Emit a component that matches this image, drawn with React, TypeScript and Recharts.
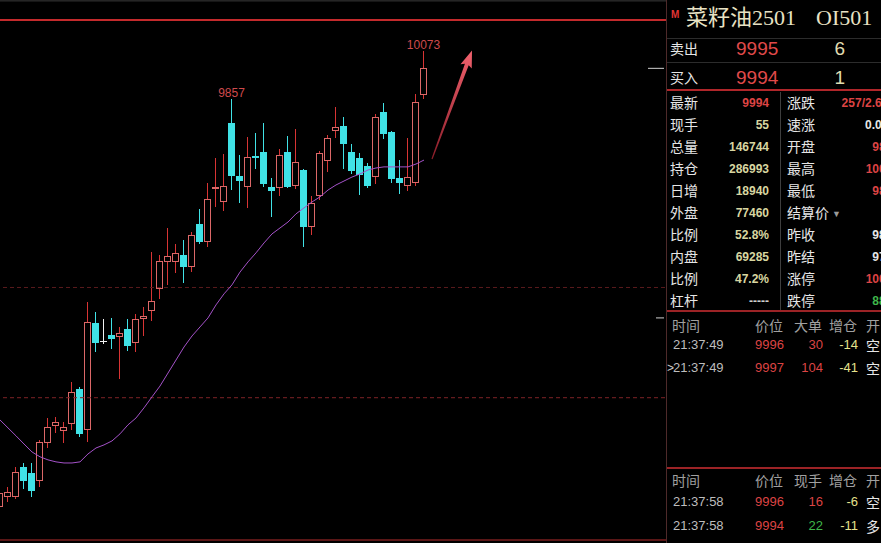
import React from 'react';
import { ComposedChart, Bar, Line, XAxis, YAxis, ReferenceLine } from 'recharts';

// OHLC of each bar, oldest first
const opens = [8005, 8050, 8050, 8186, 8159, 8123, 8295, 8372, 8349, 8381, 8540, 8354, 8839, 8758, 8785, 8776, 8812, 8748, 8857, 8894, 8993, 9116, 9116, 9148, 9093, 9288, 9207, 9447, 9388, 9746, 9506, 9456, 9597, 9615, 9456, 9451, 9615, 9460, 9533, 9275, 9415, 9574, 9710, 9733, 9615, 9587, 9551, 9501, 9796, 9705, 9497, 9460, 9474, 9873];
const closes = [8068, 8073, 8164, 8123, 8077, 8300, 8368, 8390, 8368, 8526, 8336, 8844, 8748, 8758, 8767, 8794, 8735, 8857, 8871, 8939, 9120, 9143, 9157, 9093, 9238, 9207, 9401, 9456, 9460, 9506, 9483, 9592, 9587, 9470, 9438, 9601, 9456, 9569, 9275, 9383, 9610, 9678, 9728, 9651, 9529, 9510, 9460, 9773, 9696, 9492, 9474, 9501, 9841, 9994];
const highs = [8082, 8095, 8186, 8204, 8204, 8309, 8408, 8413, 8390, 8572, 8549, 8934, 8889, 8857, 8862, 8821, 8857, 8880, 8912, 9161, 9148, 9270, 9197, 9216, 9252, 9356, 9474, 9587, 9606, 9857, 9601, 9683, 9701, 9746, 9497, 9628, 9687, 9719, 9538, 9415, 9619, 9692, 9819, 9773, 9651, 9610, 9565, 9787, 9837, 9710, 9578, 9678, 9878, 10073];
const lows = [7914, 8027, 8040, 8086, 8050, 8095, 8272, 8340, 8295, 8354, 8322, 8300, 8708, 8744, 8721, 8585, 8712, 8708, 8780, 8848, 8948, 9011, 9066, 9021, 9071, 9197, 9184, 9365, 9347, 9442, 9383, 9361, 9538, 9456, 9320, 9415, 9451, 9447, 9184, 9238, 9397, 9524, 9678, 9538, 9515, 9420, 9451, 9470, 9674, 9474, 9424, 9438, 9460, 9855];
// moving average line
const ma = [8399, 8363, 8327, 8290, 8254, 8232, 8218, 8209, 8204, 8204, 8209, 8245, 8272, 8286, 8304, 8336, 8377, 8408, 8454, 8504, 8553, 8612, 8671, 8730, 8780, 8821, 8862, 8921, 8971, 9012, 9070, 9116, 9157, 9202, 9243, 9270, 9297, 9334, 9361, 9388, 9411, 9442, 9465, 9483, 9501, 9515, 9533, 9542, 9547, 9547, 9547, 9547, 9560, 9578];

// bars whose high is printed above the wick
const labeledHighs = [29, 53];
const totalSlots = 84;
const priceDomain = [7841, 10304];
const limitLine = 10213;
const gridPrices = [9000, 8500];
const lastPrice = 9994;
const markPrice = 8862;
const bottomEdge = 7855;
const trendArrow = [{ x: 54, y: 9583 }, { x: 59, y: 10075 }];

// quote panel
const titleName = '菜籽油2501';
const titleCode = 'OI501';
const bookLabels = ['卖出', '买入'];
const bookPrices = ['9995', '9994'];
const bookVols = ['6', '1'];
const statLabelsL = ['最新', '现手', '总量', '持仓', '日增', '外盘', '比例', '内盘', '比例', '杠杆'];
const statValuesL = ['9994', '55', '146744', '286993', '18940', '77460', '52.8%', '69285', '47.2%', '-----'];
const statLabelsR = ['涨跌', '速涨', '开盘', '最高', '最低', '结算价', '昨收', '昨结', '涨停', '跌停'];
const statValuesR = ['257/2.64%', '0.00%', '9826', '10073', '9812', '', '9820', '9737', '10027', '8847'];
const bigHeader = ['时间', '价位', '大单', '增仓', '开'];
const bigTimes = ['21:37:49', '21:37:49'];
const bigPrices = ['9996', '9997'];
const bigSizes = ['30', '104'];
const bigOi = ['-14', '-41'];
const bigKind = ['空', '空'];
const tickHeader = ['时间', '价位', '现手', '增仓', '开'];
const tickTimes = ['21:37:58', '21:37:58'];
const tickPrices = ['9996', '9994'];
const tickVols = ['16', '22'];
const tickOi = ['-6', '-11'];
const tickKind = ['空', '多'];

const data = Array.from({ length: totalSlots }, (_, i) =>
  i < opens.length
    ? { i, open: opens[i], close: closes[i], high: highs[i], low: lows[i], range: [lows[i], highs[i]], ma: ma[i] }
    : { i }
);

const UP_WICK = '#d83434';
const UP_BODY = '#dc6868';
const DOWN = '#40e2e6';
const FLAT = '#f2f2f2';
const LABEL = '#cf4a4c';

const NUM = '"Liberation Sans", Arial, sans-serif';
const CJK = '"Noto Sans CJK SC", "Liberation Sans", sans-serif';
const SERIF = '"Liberation Serif", "Noto Sans CJK SC", serif';

function Candle(props: any) {
  const { x, y, width, height, payload } = props;
  if (!payload || payload.high == null) return null;
  const { open, close, high, low, i } = payload;
  const k = height / (high - low);
  const py = (p: number) => y + (high - p) * k;
  const xc = Math.floor(x + width / 2 + 0.01) + 0.5;
  const hy = Math.round(py(high));
  const ly = Math.round(py(low));
  const top = Math.round(py(Math.max(open, close)));
  const bot = Math.round(py(Math.min(open, close)));
  let mark;
  if (close > open) {
    mark = (
      <g>
        <line x1={xc} x2={xc} y1={hy} y2={top} stroke={UP_WICK} />
        <line x1={xc} x2={xc} y1={bot} y2={ly} stroke={UP_WICK} />
        <rect x={xc - 3} y={top + 0.5} width={6} height={Math.max(bot - top - 1, 1)} fill="#000" stroke={UP_BODY} />
      </g>
    );
  } else if (close < open) {
    mark = (
      <g>
        <line x1={xc} x2={xc} y1={hy} y2={ly} stroke={DOWN} />
        <rect x={xc - 3.5} y={top} width={7} height={Math.max(bot - top, 1)} fill={DOWN} />
      </g>
    );
  } else {
    mark = (
      <g>
        <line x1={xc} x2={xc} y1={hy} y2={ly} stroke={FLAT} />
        <line x1={xc - 3.5} x2={xc + 3.5} y1={top + 0.5} y2={top + 0.5} stroke={FLAT} />
      </g>
    );
  }
  return (
    <g>
      {mark}
      {labeledHighs.includes(i) && (
        <text x={xc} y={py(high) - 2} textAnchor="middle" fill={LABEL} fontSize={12} fontFamily={NUM}>
          {high}
        </text>
      )}
    </g>
  );
}

function Arrow(props: any) {
  const { x1, y1, x2, y2 } = props;
  if ([x1, y1, x2, y2].some((v) => v == null || Number.isNaN(v))) return null;
  const dx = x2 - x1;
  const dy = y2 - y1;
  const len = Math.hypot(dx, dy);
  const ux = dx / len;
  const uy = dy / len;
  const nx = -uy;
  const ny = ux;
  const H = 15;
  const neckX = x2 - ux * H;
  const neckY = y2 - uy * H;
  const pts = [
    [x1 + nx * 0.6, y1 + ny * 0.6],
    [neckX + nx * 2, neckY + ny * 2],
    [neckX - ux * 2 + nx * 6, neckY - uy * 2 + ny * 6],
    [x2, y2],
    [neckX - ux * 2 - nx * 6, neckY - uy * 2 - ny * 6],
    [neckX - nx * 2, neckY - ny * 2],
    [x1 - nx * 0.6, y1 - ny * 0.6],
  ];
  return (
    <g>
      <defs>
        <linearGradient id="trendGrad" gradientUnits="userSpaceOnUse" x1={x1} y1={y1} x2={x2} y2={y2}>
          <stop offset="0" stopColor="#8a1c28" />
          <stop offset="1" stopColor="#f2626e" />
        </linearGradient>
      </defs>
      <polygon points={pts.map((p) => p.join(',')).join(' ')} fill="url(#trendGrad)" />
    </g>
  );
}

function T({ x, y, s, c, a = 'start', f = NUM, w = 400, children }: any) {
  const h = Math.round(s * 1.25);
  return (
    <div
      style={{
        position: 'absolute',
        left: x,
        top: y - h / 2,
        height: h,
        lineHeight: `${h}px`,
        fontSize: s,
        color: c,
        fontFamily: f,
        fontWeight: w,
        whiteSpace: 'nowrap',
        transform: a === 'end' ? 'translateX(-100%)' : undefined,
      }}
    >
      {children}
    </div>
  );
}

function HLine({ x, y, w, h = 1, c }: any) {
  return <div style={{ position: 'absolute', left: x, top: y, width: w, height: h, background: c }} />;
}

const RED = '#dc4444';
const BEIGE = '#d8d6a0';
const WHITE = '#e6e6e6';
const GREEN = '#3fb64a';
const GREY = '#a0a0a0';
const YELLOW = '#e6e28c';

const leftColors = [RED, BEIGE, BEIGE, BEIGE, BEIGE, BEIGE, BEIGE, BEIGE, BEIGE, '#cfcfcf'];
const rightColors = [RED, WHITE, RED, RED, RED, WHITE, WHITE, WHITE, RED, GREEN];
const tickVolColors = [RED, GREEN];

export default function App() {
  return (
    <div style={{ position: 'fixed', left: 0, top: 0, width: 881, height: 543, background: '#000', overflow: 'hidden' }}>
      <div style={{ position: 'absolute', left: -4, top: 0 }}>
        <ComposedChart width={672} height={543} data={data} margin={{ top: 0, right: 0, bottom: 0, left: 0 }}>
          <XAxis dataKey="i" hide />
          <YAxis hide type="number" domain={priceDomain} allowDataOverflow />
          <ReferenceLine y={10300} stroke="#3c3c3c" strokeWidth={1} />
          <ReferenceLine y={limitLine} stroke="#c42a2c" strokeWidth={2} />
          {gridPrices.map((p, k) => (
            <ReferenceLine key={p} y={p} stroke={k === 0 ? '#5a1a1c' : '#7e2226'} strokeDasharray="4 3" />
          ))}
          <ReferenceLine y={bottomEdge} stroke="#5a1616" strokeWidth={2} />
          <ReferenceLine segment={[{ x: 81, y: lastPrice }, { x: 83, y: lastPrice }]} stroke="#d0d0d0" />
          <ReferenceLine segment={[{ x: 82, y: markPrice }, { x: 83, y: markPrice }]} stroke="#d0d0d0" />
          <Bar dataKey="range" shape={(p: any) => <Candle {...p} />} isAnimationActive={false} />
          <Line dataKey="ma" stroke="#a452c8" strokeWidth={1} dot={false} activeDot={false} isAnimationActive={false} connectNulls={false} />
          <ReferenceLine segment={trendArrow} shape={(p: any) => <Arrow {...p} />} />
        </ComposedChart>
      </div>

      {/* quote panel */}
      <div style={{ position: 'absolute', left: 667, top: 0, width: 214, height: 543, background: '#000' }} />
      <div style={{ position: 'absolute', left: 666, top: 0, width: 1, height: 543, background: '#4e2a2a' }} />
      <HLine x={667} y={38} w={214} c="#2c2c2c" />
      <HLine x={667} y={62} w={214} c="#2c2c2c" />
      <HLine x={667} y={89} w={214} h={2} c="#b0262a" />
      <div style={{ position: 'absolute', left: 780, top: 92, width: 1, height: 218, background: '#3e3e3e' }} />
      <HLine x={667} y={310} w={214} h={2} c="#9c2326" />
      <HLine x={667} y={467} w={214} h={2} c="#9c2326" />

      <T x={671} y={14} s={10} c="#e23434" w={700}>M</T>
      <T x={686} y={18} s={22} c="#e8e2c4" f={SERIF}>{titleName}</T>
      <T x={816} y={18} s={22} c="#e8e2c4" f={SERIF}>{titleCode}</T>

      {bookLabels.map((l, k) => (
        <React.Fragment key={l}>
          <T x={670} y={48 + 29 * k} s={14} c={WHITE} f={CJK}>{l}</T>
          <T x={736} y={49 + 29 * k} s={19} c="#e04a4a">{bookPrices[k]}</T>
          <T x={845} y={49 + 29 * k} s={19} c="#e0dcb0" a="end">{bookVols[k]}</T>
        </React.Fragment>
      ))}

      {statLabelsL.map((l, k) => (
        <React.Fragment key={'l' + k}>
          <T x={670} y={102 + 22 * k} s={14} c={WHITE} f={CJK}>{l}</T>
          <T x={769} y={103 + 22 * k} s={12} c={leftColors[k]} a="end" w={700}>{statValuesL[k]}</T>
        </React.Fragment>
      ))}
      {statLabelsR.map((l, k) => (
        <React.Fragment key={'r' + k}>
          <T x={787} y={102 + 22 * k} s={14} c={WHITE} f={CJK}>{l}</T>
          {l === '结算价' && <T x={832} y={104 + 22 * k} s={9} c="#9a9a9a">▼</T>}
          <T x={899} y={103 + 22 * k} s={12} c={rightColors[k]} a="end" w={700}>{statValuesR[k]}</T>
        </React.Fragment>
      ))}

      {bigHeader.map((h, k) => (
        <T key={'bh' + k} x={[672, 755, 794, 829, 866][k]} y={325} s={14} c={GREY} f={CJK}>{h}</T>
      ))}
      {bigTimes.map((t, k) => (
        <React.Fragment key={'b' + k}>
          {k === 1 && <T x={667} y={368} s={12} c="#cfcfcf">&gt;</T>}
          <T x={673} y={345 + 23 * k} s={13} c="#bdbdbd">{t}</T>
          <T x={755} y={345 + 23 * k} s={13} c={RED}>{bigPrices[k]}</T>
          <T x={823} y={345 + 23 * k} s={13} c={RED} a="end">{bigSizes[k]}</T>
          <T x={858} y={345 + 23 * k} s={13} c={YELLOW} a="end">{bigOi[k]}</T>
          <T x={866} y={345 + 23 * k} s={14} c={WHITE} f={CJK}>{bigKind[k]}</T>
        </React.Fragment>
      ))}

      {tickHeader.map((h, k) => (
        <T key={'th' + k} x={[672, 755, 794, 829, 866][k]} y={480} s={14} c={GREY} f={CJK}>{h}</T>
      ))}
      {tickTimes.map((t, k) => (
        <React.Fragment key={'t' + k}>
          <T x={673} y={502 + 24 * k} s={13} c="#bdbdbd">{t}</T>
          <T x={755} y={502 + 24 * k} s={13} c={RED}>{tickPrices[k]}</T>
          <T x={823} y={502 + 24 * k} s={13} c={tickVolColors[k]} a="end">{tickVols[k]}</T>
          <T x={858} y={502 + 24 * k} s={13} c={YELLOW} a="end">{tickOi[k]}</T>
          <T x={866} y={502 + 24 * k} s={14} c={WHITE} f={CJK}>{tickKind[k]}</T>
        </React.Fragment>
      ))}
    </div>
  );
}
